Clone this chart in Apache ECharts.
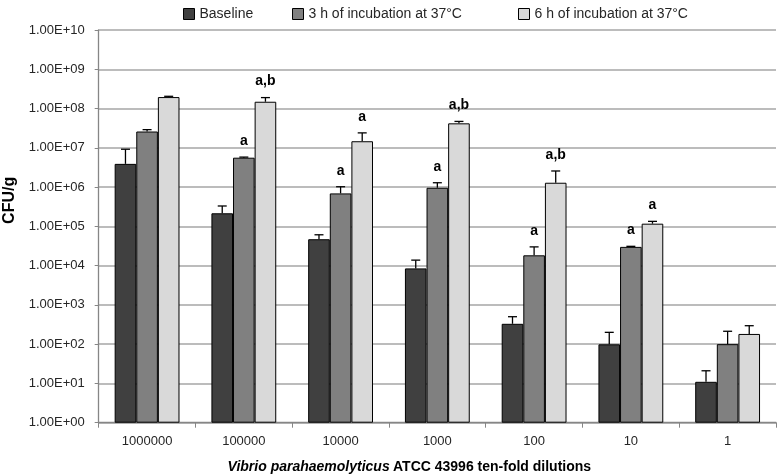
<!DOCTYPE html>
<html><head><meta charset="utf-8">
<script src="https://cdn.jsdelivr.net/npm/echarts@6/dist/echarts.min.js"></script>
<style>html,body{margin:0;padding:0;background:#fff}#c{width:777px;height:476px}</style>
</head><body><div id="c"></div>
<script>
const categories = ['1000000','100000','10000','1000','100','10','1'];
const seriesNames = ['Baseline','3 h of incubation at 37°C','6 h of incubation at 37°C'];
const baseline    = [3.9e6, 2.15e5, 4.7e4, 8.5e3, 330, 99, 11];
const baselineErr = [9.2e6, 3.3e5, 6.1e4, 1.38e4, 500, 200, 21];
const h3          = [2.6e7, 5.6e6, 6.9e5, 9.6e5, 1.83e4, 3.0e4, 100];
const h3Err       = [2.9e7, 5.8e6, 1.02e6, 1.29e6, 3.0e4, 3.1e4, 213];
const h6          = [1.96e8, 1.49e8, 1.47e7, 4.2e7, 1.29e6, 1.17e5, 182];
const h6Err       = [2.05e8, 1.9e8, 2.4e7, 4.7e7, 2.57e6, 1.34e5, 295];
const annotBaseline = ['', '', '', '', '', '', ''];
const annotH3       = ['', 'a', 'a', 'a', 'a', 'a', ''];
const annotH6       = ['', 'a,b', 'a', 'a,b', 'a,b', 'a', ''];
const yMin = 1, yMax = 1e10;

const colors = ['#404040','#808080','#d9d9d9'];
const FONT = 'Liberation Sans';
const catGapRatio = 0.33;
const legendLefts = [178, 287, 513];

const values = [baseline, h3, h6];
const uppers = [baselineErr, h3Err, h6Err];
const annots = [annotBaseline, annotH3, annotH6];

function fmtExp(v){
  const e = Math.round(Math.log10(v));
  const m = v / Math.pow(10, e);
  return m.toFixed(2) + 'E' + (e < 0 ? '-' : '+') + String(Math.abs(e)).padStart(2,'0');
}

function errSeries(k){
  return {
    type:'custom', name: seriesNames[k] + ' err', z: 5,
    data: categories.map((c,i)=>[i, values[k][i], uppers[k][i]]),
    encode:{x:0,y:[1,2]},
    renderItem: function(params, api){
      const i = api.value(0);
      const pv = api.coord([i, api.value(1)]);
      const pu = api.coord([i, api.value(2)]);
      const band = api.size([1,0])[0];
      const bw = band*(1-catGapRatio)/3;
      const x = pv[0] + (k-1)*bw;
      const cap = 4.5;
      const children = [
        {type:'line', shape:{x1:x,y1:pv[1],x2:x,y2:pu[1]}, style:{stroke:'#000',lineWidth:1.3}},
        {type:'line', shape:{x1:x-cap,y1:pu[1],x2:x+cap,y2:pu[1]}, style:{stroke:'#000',lineWidth:1.3}}
      ];
      const t = annots[k][i];
      if (t) children.push({type:'text', style:{text:t, x:x, y:pu[1]-16, align:'center', verticalAlign:'middle', font:'bold 14px "'+FONT+'"', fill:'#000'}});
      return {type:'group', children};
    }
  };
}

const chart = echarts.init(document.getElementById('c'), null, {renderer:'canvas'});
chart.setOption({
  animation:false,
  textStyle:{fontFamily:FONT},
  legend: seriesNames.map((n,k)=>({
    data:[n], top: 2, left: legendLefts[k], itemWidth: 11, itemHeight: 11, icon:'rect',
    textStyle:{fontFamily:FONT,fontSize:14,color:'#262626'},
    itemStyle:{borderColor:'#000',borderWidth:1}
  })),
  grid:{left:98.7, right:1, top:30, bottom:53.3, containLabel:false, outerBoundsMode:'none'},
  xAxis:{
    type:'category', data:categories,
    axisLine:{lineStyle:{color:'#868686',width:1.3}},
    axisTick:{show:true,length:5,lineStyle:{color:'#868686'}},
    axisLabel:{color:'#262626',fontSize:13,margin:12,fontFamily:FONT},
    name:'{i|Vibrio parahaemolyticus} {b|ATCC 43996 ten-fold dilutions}',
    nameLocation:'middle', nameGap:37,
    nameTextStyle:{padding:[0,56,0,0], rich:{
      i:{fontStyle:'italic',fontWeight:'bold',fontSize:14,fontFamily:FONT,color:'#000'},
      b:{fontWeight:'bold',fontSize:14,fontFamily:FONT,color:'#000'}}}
  },
  yAxis:{
    type:'log', logBase:10, min:yMin, max:yMax, interval:1,
    axisLine:{show:true,lineStyle:{color:'#868686',width:1.3}},
    axisTick:{show:true,length:4,lineStyle:{color:'#868686'}},
    splitLine:{lineStyle:{color:'#a6a6a6',width:1.5}},
    axisLabel:{color:'#262626',fontSize:13,margin:14,fontFamily:FONT, formatter:fmtExp},
    name:'CFU/g', nameLocation:'middle', nameGap:81,
    nameTextStyle:{fontWeight:'bold',fontSize:16,color:'#000',fontFamily:FONT,padding:[0,0,0,52]}
  },
  series: [0,1,2].map(k=>({
    type:'bar', name:seriesNames[k], data:values[k], barGap:'0%', barCategoryGap:(catGapRatio*100)+'%',
    itemStyle:{color:colors[k], borderColor:'#000', borderWidth:1}
  })).concat([0,1,2].map(errSeries))
});
</script></body></html>
